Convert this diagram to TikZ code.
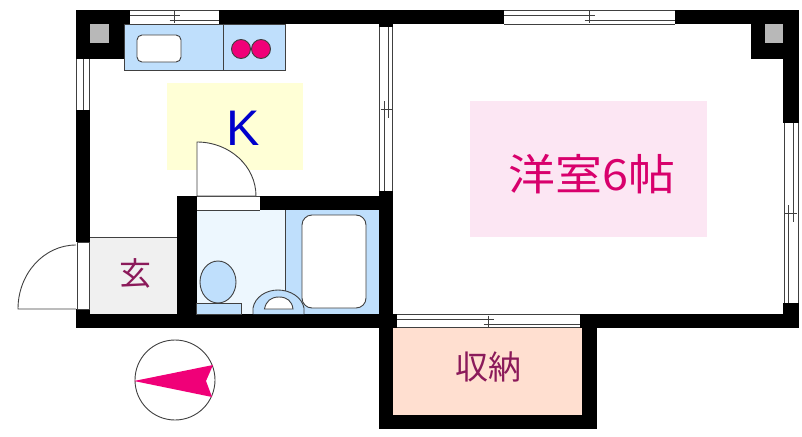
\documentclass[tikz,border=0pt]{standalone}
\usepackage{fontspec}
\setmainfont{Liberation Sans}
\newfontfamily\cjk{Noto Sans CJK JP}
\newcommand{\hwin}[4]{% xa, xb, ytop, ybottom
  \fill[white] (#1,#3) rectangle (#2,#4);
  \draw[winline] (#1,#3) -- (#2,#3) (#1,#4) -- (#2,#4);
  \pgfmathsetmacro{\wmid}{(#1+#2)/2}
  \draw[winline] (#1,#3+5) -- (\wmid+5,#3+5) (\wmid-5,#3+9.5) -- (#2,#3+9.5) (\wmid,#3+1) -- (\wmid,#4-1);
}
\newcommand{\vwin}[4]{% ya, yb, xleft, xright
  \fill[white] (#3,#1) rectangle (#4,#2);
  \draw[winline] (#3,#1) -- (#3,#2) (#4,#1) -- (#4,#2);
  \pgfmathsetmacro{\wmid}{(#1+#2)/2}
  \draw[winline] (#3+9,#1) -- (#3+9,\wmid+9) (#3+4.5,\wmid-8) -- (#3+4.5,#2) (#3+1,\wmid) -- (#4-1,\wmid);
}
\tikzset{
  x=1pt,y=-1pt,
  wall/.style={fill=black},
  winline/.style={draw=black!75,line width=0.8pt},
  outline/.style={draw=black!75,line width=0.9pt},
  blue fix/.style={fill=fixblue,outline},
  room label/.style={font=\cjk,inner sep=0pt},
}
\definecolor{fixblue}{HTML}{BFDFFC}
\definecolor{paleblue}{HTML}{EDF7FE}
\definecolor{roomyellow}{HTML}{FFFFD6}
\definecolor{roompink}{HTML}{FCE6F3}
\definecolor{roompeach}{HTML}{FFDFD0}
\definecolor{roomgrey}{HTML}{F0F0F0}
\definecolor{hotpink}{HTML}{F00078}
\definecolor{maroon}{HTML}{8B1A5A}
\begin{document}
\begin{tikzpicture}
\useasboundingbox (0,0) rectangle (802,436);
% room colours
\fill[roomyellow] (167,83) rectangle (303,170);
\fill[roompink] (470,101) rectangle (707,237);
\fill[roompeach] (393,328) rectangle (582,415);
\fill[roomgrey] (90,237) rectangle (177,314);
\draw[outline] (90,237) -- (177,237);
\fill[paleblue] (192,210) rectangle (285,314);
\fill[fixblue] (285,210) rectangle (380,314);
\draw[outline] (285,210) -- (285,292);
% walls
\fill[wall] (76,10) rectangle (130,24);
\fill[wall] (219,10) rectangle (504,24);
\fill[wall] (675,10) rectangle (799,24);
\fill[wall] (76,10) rectangle (124,59);
\fill[wall] (751,10) rectangle (799,59);
\fill[wall] (76,110) rectangle (90,242);
\fill[wall] (76,309) rectangle (90,328);
\fill[wall] (76,314) rectangle (397,328);
\fill[wall] (177,196) rectangle (197,314);
\fill[wall] (177,210) rectangle (192,314);
\fill[wall] (260,196) rectangle (393,210);
\fill[wall] (379,191) rectangle (393,429);
\fill[wall] (379,24) rectangle (393,27);
\fill[wall] (580,314) rectangle (799,328);
\fill[wall] (582,328) rectangle (597,429);
\fill[wall] (379,415) rectangle (597,429);
\fill[wall] (783,10) rectangle (799,123);
\fill[wall] (783,303) rectangle (799,328);
% pillars
\fill[black!28] (90,24) rectangle (109,43);
\fill[black!28] (765,24) rectangle (783,43);
% windows
\hwin{130}{219}{10.5}{24}
\hwin{504}{675}{10.5}{24}
\hwin{397}{580}{314.5}{327.5}
\vwin{27}{191}{379.5}{392.5}
\vwin{123}{303}{784}{798}
\fill[white] (76.5,59) rectangle (89.5,110);
\draw[winline] (76.5,59) -- (76.5,110) (83,59) -- (83,110) (89.5,59) -- (89.5,110);
% kitchen counter
\draw[blue fix] (124,24) rectangle (223,70);
\draw[blue fix] (223,24) rectangle (285,70);
\draw[outline,fill=white,rounded corners=5pt] (137,35) rectangle (181,62);
\draw[outline,fill=hotpink] (241,49) circle[radius=9.5];
\draw[outline,fill=hotpink] (261,49) circle[radius=9.5];
% inner door
\fill[white] (197,196.5) rectangle (260,210);
\draw[outline] (197,196) -- (260,196);
\draw[outline] (197,210) -- (260,210);
\draw[outline,fill=white] (197,196) -- (197,142) arc[start angle=90,end angle=0,x radius=59,y radius=-54] -- cycle;
% entrance door
\fill[white] (77,242) rectangle (89,309);
\draw[outline] (77,242) rectangle (89,309);
\draw[outline] (76,309) -- (18,309) arc[start angle=180,end angle=90,x radius=58,y radius=-64];
% bath
\draw[outline,fill=white,rounded corners=10pt] (302,215) rectangle (366,308);
\draw[outline,fill=fixblue] (218,282) ellipse[x radius=18,y radius=21];
\draw[blue fix] (196,303) rectangle (241,314);
\draw[blue fix] (253,314) -- (253,308) .. controls (255,297) and (266,290) .. (278,290) .. controls (290,290) and (302,297) .. (304,308) -- (304,314);
\draw[outline,fill=white] (264.5,309) .. controls (266,301) and (271,297) .. (279,297) .. controls (287,297) and (292,301) .. (293,309) -- cycle;
% compass
\draw[outline,fill=white] (175,380) circle[radius=40];
\fill[hotpink] (134,381) -- (213,365) -- (206,381) -- (212,397) -- cycle;
% labels
\node[font=\fontsize{50}{50}\selectfont,text=blue!80!black,inner sep=0pt] (k) at (243,128) {K};
\node[room label,text=maroon,font=\cjk\fontsize{32}{32}\selectfont] (gen) at (135,273) {玄};
\node[room label,text=maroon,font=\cjk\fontsize{33}{33}\selectfont,xscale=1.0] (shu) at (488,367) {収納};
\node[room label,text=hotpink!90!black,font=\cjk\fontsize{43}{43}\selectfont,xscale=1.09] (yo) at (592,174) {洋室6帖};
\end{tikzpicture}
\end{document}
